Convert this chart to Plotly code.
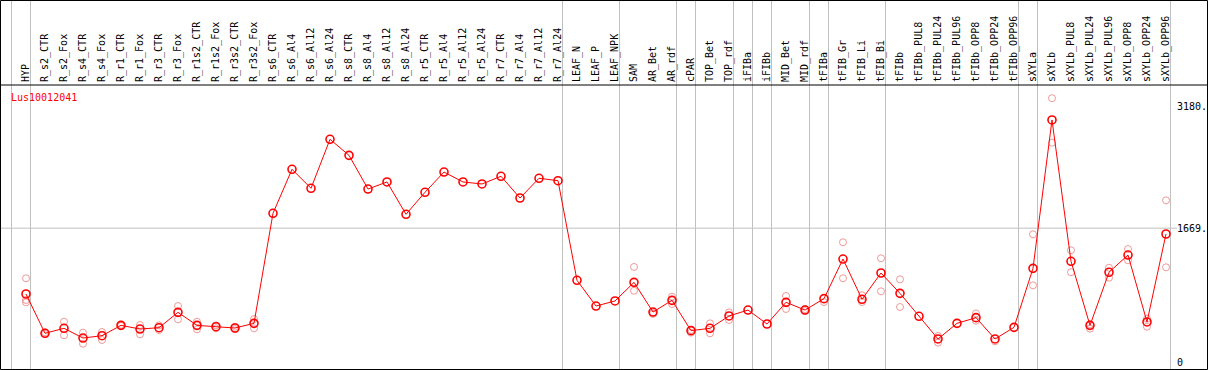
import plotly.graph_objects as go

categories = [
    "HYP", "R_s2_CTR", "R_s2_Fox", "R_s4_CTR", "R_s4_Fox", "R_r1_CTR", "R_r1_Fox",
    "R_r3_CTR", "R_r3_Fox", "R_r1s2_CTR", "R_r1s2_Fox", "R_r3s2_CTR", "R_r3s2_Fox",
    "R_s6_CTR", "R_s6_Al4", "R_s6_Al12", "R_s6_Al24", "R_s8_CTR", "R_s8_Al4",
    "R_s8_Al12", "R_s8_Al24", "R_r5_CTR", "R_r5_Al4", "R_r5_Al12", "R_r5_Al24",
    "R_r7_CTR", "R_r7_Al4", "R_r7_Al12", "R_r7_Al24", "LEAF_N", "LEAF_P", "LEAF_NPK",
    "SAM", "AR_Bet", "AR_rdf", "cPAR", "TOP_Bet", "TOP_rdf", "iFIBa", "iFIBb",
    "MID_Bet", "MID_rdf", "tFIBa", "tFIB_Gr", "tFIB_Li", "tFIB_Bi", "tFIBb",
    "tFIBb_PUL8", "tFIBb_PUL24", "tFIBb_PUL96", "tFIBb_OPP8", "tFIBb_OPP24",
    "tFIBb_OPP96", "sXYLa", "sXYLb", "sXYLb_PUL8", "sXYLb_PUL24", "sXYLb_PUL96",
    "sXYLb_OPP8", "sXYLb_OPP24", "sXYLb_OPP96",
]

mean_values = [
    848, 358, 420, 299, 328, 457, 411, 428, 619, 457, 440, 424, 482,
    1854, 2403, 2166, 2777, 2577, 2157, 2245, 1842, 2116, 2369, 2245, 2220,
    2316, 2045, 2291, 2261, 1019, 698, 761,
    993, 623, 769, 391, 420, 574, 648, 474,
    744, 648, 790, 1284, 782, 1110, 856,
    570, 287, 482, 553, 287, 432,
    1168, 3018, 1256, 457, 1119, 1334, 499, 1596,
]

replicates = {
    "HYP": [1044, 773, 744], "R_s2_CTR": [370, 350], "R_s2_Fox": [503, 333],
    "R_s4_CTR": [366, 228], "R_s4_Fox": [374, 274], "R_r1_CTR": [465, 450],
    "R_r1_Fox": [461, 345], "R_r3_CTR": [457, 399], "R_r3_Fox": [698, 532],
    "R_r1s2_CTR": [503, 407], "R_r1s2_Fox": [457, 420], "R_r3s2_CTR": [440, 410],
    "R_r3s2_Fox": [536, 420], "SAM": [1185, 889], "AR_Bet": [615, 600],
    "AR_rdf": [815, 723], "cPAR": [400, 366], "TOP_Bet": [482, 358],
    "TOP_rdf": [619, 524], "MID_Bet": [823, 661], "MID_rdf": [660, 636],
    "tFIBa": [748], "tFIB_Gr": [1493, 1044], "tFIB_Li": [832, 748],
    "tFIB_Bi": [1293, 881], "tFIBb": [1031, 686], "tFIBb_PUL24": [324, 241],
    "tFIBb_OPP8": [607, 515], "tFIBb_OPP24": [258], "sXYLa": [1592, 956],
    "sXYLb": [3290, 2735], "sXYLb_PUL8": [1393, 1119], "sXYLb_PUL24": [416, 470],
    "sXYLb_PUL96": [1176, 1051], "sXYLb_OPP8": [1409, 1268],
    "sXYLb_OPP24": [540, 440], "sXYLb_OPP96": [2016, 1181],
}

# separators are drawn right after these categories ("" = before the first)
group_ends = ["", "HYP", "R_r7_Al24", "LEAF_NPK", "AR_rdf", "cPAR", "TOP_rdf",
              "iFIBa", "iFIBb", "MID_rdf", "tFIBa", "tFIB_Bi", "tFIBb_OPP96",
              "sXYLa", "sXYLb_OPP96"]

y_tick_vals = [0, 1669, 3180]
y_tick_text = ["0", "1669.", "3180."]
ref_line_value = 1669
gene_name = "Lus10012041"

FONT = "DejaVu Sans Mono"
W, H = 1209, 370
ML, MR, MT, MB = 1, 37, 85, 1
plot_w = W - ML - MR
plot_h = H - MT - MB

rep_x, rep_y = [], []
for c in categories:
    for v in replicates.get(c, []):
        rep_x.append(categories.index(c))
        rep_y.append(v)

fig = go.Figure()
fig.add_trace(go.Scatter(
    x=rep_x, y=rep_y, mode="markers",
    marker=dict(symbol="circle-open", size=7, color="rgba(232,120,120,0.75)",
                line=dict(width=1)),
    hoverinfo="skip", showlegend=False,
))
fig.add_trace(go.Scatter(
    x=list(range(len(categories))), y=mean_values, mode="lines+markers",
    line=dict(color="#ff0000", width=1),
    marker=dict(symbol="circle-open", size=8, color="#ff0000", line=dict(width=1.6)),
    showlegend=False,
))

def px_to_paper_x(px):
    return (px - ML) / plot_w

def py_to_paper_y(py):
    return (H - MB - py) / plot_h

shapes = []
for g in group_ends:
    idx = categories.index(g) if g else -1
    shapes.append(dict(type="line", xref="x", yref="paper",
                       x0=idx + 0.237, x1=idx + 0.237,
                       y0=0, y1=py_to_paper_y(0),
                       line=dict(color="#c0c0c0", width=1), layer="below"))
shapes.append(dict(type="line", xref="paper", yref="y",
                   x0=0, x1=px_to_paper_x(1177), y0=ref_line_value, y1=ref_line_value,
                   line=dict(color="#c0c0c0", width=1), layer="below"))
# frame and header separator
shapes.append(dict(type="rect", xref="paper", yref="paper",
                   x0=px_to_paper_x(0.5), x1=px_to_paper_x(1207.5),
                   y0=py_to_paper_y(369.5), y1=py_to_paper_y(0.5),
                   line=dict(color="black", width=1)))
shapes.append(dict(type="line", xref="paper", yref="paper",
                   x0=px_to_paper_x(0.5), x1=px_to_paper_x(1207.5),
                   y0=1, y1=1, line=dict(color="black", width=1)))

fig.update_layout(
    width=W, height=H,
    margin=dict(l=ML, r=MR, t=MT, b=MB),
    paper_bgcolor="white", plot_bgcolor="white",
    font=dict(family=FONT, size=10, color="black"),
    shapes=shapes,
    annotations=[dict(text=gene_name, xref="paper", yref="paper",
                      x=px_to_paper_x(9), y=py_to_paper_y(97),
                      xanchor="left", yanchor="middle", showarrow=False,
                      font=dict(family=FONT, size=10, color="#ff0000"))],
    xaxis=dict(
        range=[(1 - 26) / 19, (W - MR - 26) / 19],
        tickmode="array", tickvals=list(range(len(categories))), ticktext=categories,
        side="top", tickangle=-90, ticks="", showgrid=False, zeroline=False,
        showline=False, tickfont=dict(family=FONT, size=10, color="black"),
        ticklabelstandoff=2,
    ),
    yaxis=dict(
        range=[(362 - 369) * 12.47, (362 - 85) * 12.47],
        side="right", tickmode="array", tickvals=y_tick_vals, ticktext=y_tick_text,
        ticks="", showgrid=False, zeroline=False, showline=False,
        tickfont=dict(family=FONT, size=10, color="black"),
        ticklabelstandoff=4,
    ),
)

fig.write_html(
    "out.html",
    config={"displayModeBar": False},
    post_script="document.body.style.margin='0';document.body.style.padding='0';",
)
